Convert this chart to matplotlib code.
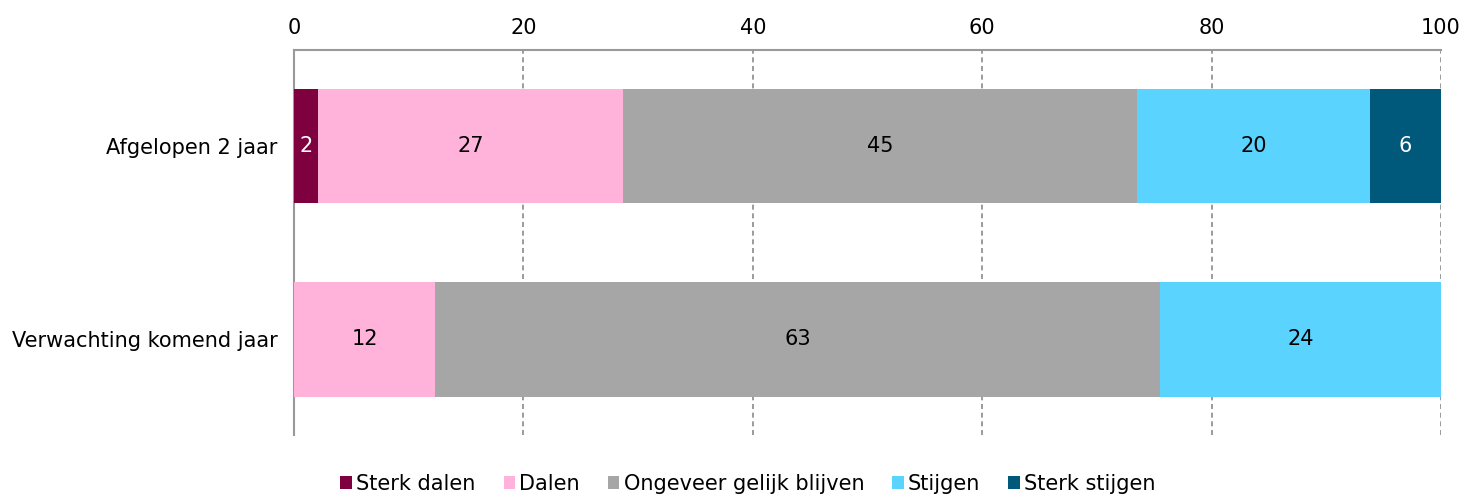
import matplotlib
matplotlib.use("Agg")
import matplotlib.pyplot as plt
from matplotlib.patches import Patch

categories = ["Afgelopen 2 jaar", "Verwachting komend jaar"]
series_names = ["Sterk dalen", "Dalen", "Ongeveer gelijk blijven", "Stijgen", "Sterk stijgen"]
sterk_dalen = [2.1, 0.0]
dalen = [26.6, 12.3]
gelijk = [44.8, 63.2]
stijgen = [20.3, 24.5]
sterk_stijgen = [6.2, 0.0]
xticks = [0, 20, 40, 60, 80, 100]

colors = ["#7E003F", "#FFB3DA", "#A6A6A6", "#5BD3FF", "#00587A"]
text_colors = ["white", "black", "black", "black", "white"]
series = [sterk_dalen, dalen, gelijk, stijgen, sterk_stijgen]

plt.rcParams["font.family"] = ["DejaVu Sans"]
fig = plt.figure(figsize=(14.64, 4.96), dpi=100)
ax = fig.add_axes([294/1464, 1 - 435/496, (1441-294)/1464, (435-50)/496])

FS = 15
ypos = list(range(len(categories)))
left = [0.0] * len(categories)
for vals, col, tcol, name in zip(series, colors, text_colors, series_names):
    bars = ax.barh(ypos, vals, left=left, height=0.59, color=col, label=name, zorder=3)
    for b, v in zip(bars, vals):
        if v > 0:
            ax.text(b.get_x() + b.get_width() / 2, b.get_y() + b.get_height() / 2,
                    f"{v:.0f}", ha="center", va="center", color=tcol, fontsize=FS, zorder=4)
    left = [l + v for l, v in zip(left, vals)]

ax.set_xlim(0, 100)
ax.set_ylim(1.494, -0.496)
ax.set_xticks(xticks)
ax.xaxis.tick_top()
ax.tick_params(axis="x", length=0, pad=9, labelsize=FS)
ax.tick_params(axis="y", length=0, pad=12, labelsize=FS)
ax.set_yticks(ypos)
ax.set_yticklabels(categories)
ax.grid(axis="x", color="#8A8A8A", linestyle=(0, (3, 2.2)), linewidth=1.2, zorder=0)
for s in ["right", "bottom"]:
    ax.spines[s].set_visible(False)
for s in ["top", "left"]:
    ax.spines[s].set_color("#999999")
    ax.spines[s].set_linewidth(1.5)

handles = [Patch(facecolor=c, label=n) for c, n in zip(colors, series_names)]
fig.legend(handles=handles, loc="center", bbox_to_anchor=(748/1464, 1 - 484/496), ncol=5,
           frameon=False, fontsize=FS, handlelength=0.55, handleheight=0.55,
           handletextpad=0.2, columnspacing=1.35, borderpad=0)

fig.savefig("out.png", dpi=100)
